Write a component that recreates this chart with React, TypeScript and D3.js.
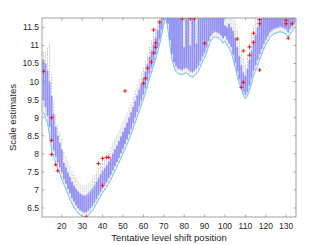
import * as d3 from "d3";
import React from "react";

// boxplot per tentative level shift position, starting at position 11
const firstPosition = 11;

const lowerWhisker = [
  9.15, 9.0, 8.85, 8.5, 8.1, 7.9, 7.74, 7.58, 7.44, 7.3,
  7.15, 7.02, 6.88, 6.75, 6.62, 6.52, 6.43, 6.36, 6.3, 6.26,
  6.24, 6.25, 6.3, 6.36, 6.43, 6.52, 6.62, 6.72, 6.82, 6.92,
  7.0, 7.08, 7.18, 7.28, 7.4, 7.52, 7.63, 7.75, 7.88, 8.0,
  8.13, 8.26, 8.4, 8.55, 8.7, 8.86, 9.02, 9.18, 9.34, 9.5,
  9.68, 9.88, 10.08, 10.25, 10.44, 10.62, 10.82, 11.04, 11.3, 11.58,
  11.8, 11.45, 11.0, 10.62, 10.4, 10.28, 10.22, 10.2, 10.18, 10.22,
  10.24, 10.2, 10.14, 10.12, 10.16, 10.22, 10.3, 10.42, 10.55, 10.66,
  10.8, 10.98, 11.12, 11.2, 11.24, 11.22, 11.2, 11.14, 11.06, 11.12,
  11.02, 10.92, 10.82, 10.62, 10.4, 10.15, 9.95, 9.78, 9.62, 9.52,
  9.6, 9.76, 9.95, 10.15, 10.3, 10.45, 10.6, 10.75, 10.9, 11.02,
  11.12, 11.22, 11.28, 11.32, 11.34, 11.36, 11.38, 11.36, 11.34, 11.3,
  11.22, 11.32, 11.4, 11.48,
];

const q1 = [
  9.5, 9.3, 9.05, 8.75, 8.35, 8.1, 7.92, 7.76, 7.62, 7.48,
  7.3, 7.17, 7.03, 6.9, 6.77, 6.67, 6.58, 6.5, 6.44, 6.4,
  6.37, 6.38, 6.43, 6.49, 6.56, 6.65, 6.75, 6.85, 6.95, 7.05,
  7.14, 7.22, 7.32, 7.42, 7.54, 7.66, 7.77, 7.89, 8.02, 8.14,
  8.27, 8.4, 8.54, 8.69, 8.84, 9.0, 9.16, 9.32, 9.48, 9.64,
  9.82, 10.02, 10.22, 10.39, 10.58, 10.76, 10.96, 11.18, 11.44, 11.72,
  11.94, 11.6, 11.14, 10.76, 10.54, 10.42, 10.36, 10.34, 10.32, 10.36,
  10.38, 10.34, 10.28, 10.26, 10.3, 10.36, 10.44, 10.56, 10.69, 10.8,
  10.94, 11.12, 11.26, 11.34, 11.38, 11.36, 11.34, 11.28, 11.2, 11.26,
  11.16, 11.06, 10.96, 10.75, 10.52, 10.28, 10.06, 9.88, 9.72, 9.62,
  9.72, 9.9, 10.1, 10.3, 10.46, 10.6, 10.76, 10.9, 11.04, 11.16,
  11.26, 11.36, 11.42, 11.46, 11.48, 11.5, 11.52, 11.5, 11.48, 11.44,
  11.36, 11.46, 11.54, 11.62,
];

const medians = [
  10.05, 9.9, 9.6, 9.25, 8.9, 8.55, 8.3, 8.1, 7.95, 7.78,
  7.5, 7.37, 7.23, 7.1, 6.97, 6.87, 6.78, 6.71, 6.65, 6.61,
  6.59, 6.6, 6.65, 6.71, 6.78, 6.87, 6.97, 7.07, 7.17, 7.27,
  7.35, 7.43, 7.53, 7.63, 7.75, 7.87, 7.98, 8.1, 8.23, 8.35,
  8.48, 8.61, 8.75, 8.9, 9.05, 9.21, 9.37, 9.53, 9.69, 9.85,
  10.03, 10.23, 10.43, 10.6, 10.79, 10.97, 11.17, 11.39, 11.65, 11.93,
  12.15, 11.85, 11.45, 11.15, 11.0, 10.95, 10.9, 11.1, 11.05, 10.7,
  10.85, 11.0, 10.9, 10.75, 11.05, 10.8, 10.95, 11.1, 11.15, 11.2,
  11.3, 11.45, 11.55, 11.6, 11.62, 11.6, 11.58, 11.52, 11.45, 11.5,
  11.4, 11.3, 11.2, 11.0, 10.8, 10.55, 10.32, 10.12, 9.95, 9.85,
  9.98, 10.2, 10.42, 10.65, 10.82, 10.98, 11.12, 11.25, 11.38, 11.48,
  11.56, 11.62, 11.66, 11.68, 11.7, 11.7, 11.72, 11.7, 11.68, 11.65,
  11.58, 11.66, 11.72, 11.76,
];

const q3 = [
  10.6, 10.5, 10.3, 10.0, 9.6, 9.1, 8.75, 8.5, 8.3, 8.12,
  7.75, 7.62, 7.48, 7.35, 7.22, 7.12, 7.03, 6.96, 6.9, 6.86,
  6.84, 6.85, 6.9, 6.96, 7.03, 7.12, 7.22, 7.32, 7.42, 7.52,
  7.6, 7.68, 7.78, 7.88, 8.0, 8.12, 8.23, 8.35, 8.48, 8.6,
  8.73, 8.86, 9.0, 9.15, 9.3, 9.46, 9.62, 9.78, 9.94, 10.1,
  10.28, 10.48, 10.68, 10.85, 11.04, 11.22, 11.42, 11.64, 11.9, 12.2,
  12.4, 12.1, 11.95, 11.9, 11.9, 11.9, 11.9, 11.9, 11.9, 10.95,
  11.9, 11.9, 11.0, 11.9, 11.9, 11.05, 11.9, 11.9, 11.9, 11.9,
  11.9, 11.9, 11.9, 11.9, 11.9, 11.9, 11.9, 11.9, 11.9, 11.55,
  11.5, 11.6, 11.5, 11.4, 11.2, 10.95, 10.7, 10.45, 10.25, 10.15,
  10.35, 10.6, 10.85, 11.1, 11.3, 11.5, 11.7, 11.9, 11.9, 11.9,
  11.9, 11.9, 11.9, 11.9, 11.9, 11.9, 11.9, 11.9, 11.9, 11.9,
  11.9, 11.9, 11.9, 11.9,
];

const upperWhisker = [
  10.85, 10.8, 10.95, 11.05, 10.2, 9.45, 9.05, 8.8, 8.6, 8.42,
  8.05, 7.92, 7.78, 7.65, 7.52, 7.42, 7.33, 7.25, 7.18, 7.14,
  7.12, 7.13, 7.18, 7.25, 7.32, 7.41, 7.51, 7.61, 7.71, 7.81,
  7.89, 7.97, 8.07, 8.17, 8.29, 8.41, 8.52, 8.64, 8.77, 8.89,
  9.02, 9.15, 9.29, 9.44, 9.59, 9.75, 9.91, 10.07, 10.23, 10.39,
  10.57, 10.77, 10.97, 11.14, 11.33, 11.51, 11.71, 11.93, 12.2, 12.5,
  12.5, 12.5, 12.5, 12.5, 12.5, 12.5, 12.5, 12.5, 12.5, 12.5,
  12.5, 12.5, 12.5, 12.5, 12.5, 12.5, 12.5, 12.5, 12.5, 12.5,
  12.5, 12.5, 12.5, 12.5, 12.5, 12.5, 12.5, 12.5, 12.5, 11.8,
  11.7, 11.85, 11.8, 11.9, 11.7, 11.45, 11.15, 10.85, 10.62, 10.5,
  10.75, 11.05, 11.3, 11.55, 11.8, 12.0, 12.2, 12.5, 12.5, 12.5,
  12.5, 12.5, 12.5, 12.5, 12.5, 12.5, 12.5, 12.5, 12.5, 12.5,
  12.5, 12.5, 12.5, 12.5,
];

// [position, value]
const outliers: [number, number][] = [
  [11, 10.28], [15, 9.0], [15, 8.37], [15, 7.98], [17, 7.7], [18, 7.53], [32, 6.26],
  [38, 7.73], [40, 7.87], [40, 7.12], [42, 7.9], [43, 7.9],
  [51, 9.74], [60, 9.95], [61, 10.09], [62, 10.37], [64, 10.54], [65, 10.79],
  [66, 10.95], [66, 11.07], [65, 11.43], [68, 11.65],
  [79, 11.74], [83, 11.74], [85, 11.74], [90, 11.06],
  [106, 11.18], [109, 10.85], [109, 9.98], [108, 9.84], [112, 10.96], [112, 10.73],
  [114, 11.34], [114, 11.09], [117, 11.72], [117, 11.6], [117, 10.32],
  [130, 11.7], [130, 11.6], [133, 11.6], [131, 11.2],
];

const xTicks = [20, 30, 40, 50, 60, 70, 80, 90, 100, 110, 120, 130];
const yTicks = [6.5, 7, 7.5, 8, 8.5, 9, 9.5, 10, 10.5, 11, 11.5];

const width = 327;
const height = 245;
const margin = { top: 18, right: 31, bottom: 28, left: 42 };
const font = "'Liberation Sans', Arial, Helvetica, sans-serif";

const App: React.FC = () => {
  const positions = lowerWhisker.map((_, i) => firstPosition + i);

  const x = d3.scaleLinear().domain([10.3, 134.8]).range([margin.left, width - margin.right]);
  const y = d3.scaleLinear().domain([6.25, 11.76]).range([height - margin.bottom, margin.top]);

  const step = x(1) - x(0);
  const boxW = step * 0.95;
  const x0 = margin.left;
  const x1 = width - margin.right;
  const y0 = height - margin.bottom;
  const y1 = margin.top;

  const lowLine = d3
    .line<number>()
    .x((_, i) => x(positions[i]))
    .y((d) => y(d))(lowerWhisker);

  const tickLen = 2.5;
  const axisColor = "#8a8a8a";

  return (
    <svg width={width} height={height} style={{ position: "absolute", left: 0, top: 0, background: "#fff" }}>
      <defs>
        <clipPath id="plot-area">
          <rect x={x0} y={y1} width={x1 - x0} height={y0 - y1} />
        </clipPath>
      </defs>

      <g clipPath="url(#plot-area)">
        {/* whiskers */}
        {positions.map((p, i) => (
          <g key={"w" + p} stroke="#a6a6a6" strokeWidth={0.6} strokeDasharray="2,1">
            <line x1={x(p)} x2={x(p)} y1={y(q3[i])} y2={y(upperWhisker[i])} />
            <line x1={x(p)} x2={x(p)} y1={y(q1[i])} y2={y(lowerWhisker[i])} />
          </g>
        ))}
        {/* boxes */}
        {positions.map((p, i) => (
          <rect
            key={"b" + p}
            x={x(p) - boxW / 2}
            y={y(q3[i])}
            width={boxW}
            height={y(q1[i]) - y(q3[i])}
            fill="#9393f5"
          />
        ))}
        {/* medians */}
        {positions.map((p, i) => (
          <line
            key={"m" + p}
            x1={x(p) - boxW / 4}
            x2={x(p) + boxW / 4}
            y1={y(medians[i])}
            y2={y(medians[i])}
            stroke="#f07a8a"
            strokeWidth={0.8}
          />
        ))}
        <path d={lowLine ?? ""} fill="none" stroke="#5cbfe9" strokeWidth={0.9} />
        {/* outliers */}
        {outliers.map(([p, v], i) => (
          <path
            key={"o" + i}
            d={`M${x(p) - 2},${y(v)}h4M${x(p)},${y(v) - 2}v4`}
            stroke="#ff0000"
            strokeWidth={0.9}
          />
        ))}
      </g>

      {/* axes box */}
      <rect x={x0} y={y1} width={x1 - x0} height={y0 - y1} fill="none" stroke={axisColor} strokeWidth={0.8} />
      {xTicks.map((t) => (
        <g key={"xt" + t}>
          <line x1={x(t)} x2={x(t)} y1={y0} y2={y0 - tickLen} stroke={axisColor} strokeWidth={0.7} />
          <line x1={x(t)} x2={x(t)} y1={y1} y2={y1 + tickLen} stroke={axisColor} strokeWidth={0.7} />
          <text x={x(t)} y={y0 + 12} textAnchor="middle" fontFamily={font} fontSize={8.5} fill="#262626">
            {t}
          </text>
        </g>
      ))}
      {yTicks.map((t) => (
        <g key={"yt" + t}>
          <line x1={x0} x2={x0 + tickLen} y1={y(t)} y2={y(t)} stroke={axisColor} strokeWidth={0.7} />
          <line x1={x1} x2={x1 - tickLen} y1={y(t)} y2={y(t)} stroke={axisColor} strokeWidth={0.7} />
          <text x={x0 - 3} y={y(t)} dy="0.35em" textAnchor="end" fontFamily={font} fontSize={8.5} fill="#262626">
            {t}
          </text>
        </g>
      ))}
      <text
        x={(x0 + x1) / 2}
        y={241}
        textAnchor="middle"
        fontFamily={font}
        fontSize={9.5}
        fill="#262626"
      >
        Tentative level shift position
      </text>
      <text
        transform={`translate(16, ${(y0 + y1) / 2}) rotate(-90)`}
        textAnchor="middle"
        fontFamily={font}
        fontSize={9.5}
        fill="#262626"
      >
        Scale estimates
      </text>
    </svg>
  );
};

export default App;
